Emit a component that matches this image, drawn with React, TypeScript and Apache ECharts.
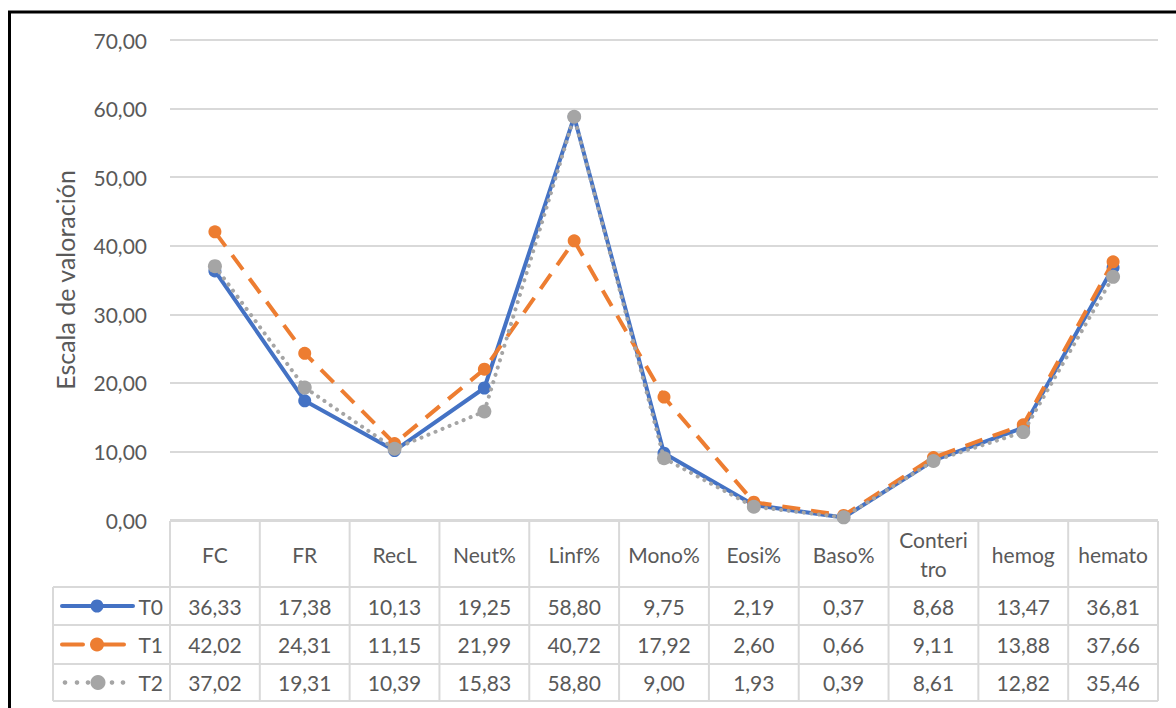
import React, { useEffect, useRef } from 'react';
import * as echarts from 'echarts';

const categories = ['FC', 'FR', 'RecL', 'Neut%', 'Linf%', 'Mono%', 'Eosi%', 'Baso%', 'Conteri\ntro', 'hemog', 'hemato'];
const seriesNames = ['T0', 'T1', 'T2'];
const t0 = [36.33, 17.38, 10.13, 19.25, 58.8, 9.75, 2.19, 0.37, 8.68, 13.47, 36.81];
const t1 = [42.02, 24.31, 11.15, 21.99, 40.72, 17.92, 2.6, 0.66, 9.11, 13.88, 37.66];
const t2 = [37.02, 19.31, 10.39, 15.83, 58.8, 9.0, 1.93, 0.39, 8.61, 12.82, 35.46];
const yMin = 0;
const yMax = 70;
const yStep = 10;
const yTitle = 'Escala de valoración';

const seriesData = [t0, t1, t2];
const colors = ['#4472C4', '#ED7D31', '#A5A5A5'];

const FONT = 'Lato';
const TXT = '#595959';
const GRID_C = '#D9D9D9';
const FS = 21;

const fmt = (v: number) => v.toFixed(2).replace('.', ',');

export default function App() {
  const ref = useRef<HTMLDivElement>(null);
  useEffect(() => {
    if (!ref.current) return;
    const chart = echarts.init(ref.current, undefined, { renderer: 'svg' });

    const gridL = 170;
    const gridR = 1158;
    const gridT = 40;
    const gridB = 520;
    const colW = (gridR - gridL) / categories.length;
    const tableTop = 521;
    const rowLines = [587, 625, 664, 701];
    const legendL = 53;

    const graphics: any[] = [];
    // frame
    graphics.push({
      type: 'rect', silent: true, z: 100,
      shape: { x: 9.5, y: 12, width: 1200, height: 800 },
      style: { fill: 'none', stroke: '#000', lineWidth: 3 },
    });
    // table horizontal lines
    graphics.push({ type: 'line', shape: { x1: gridL, y1: tableTop, x2: gridR, y2: tableTop }, style: { stroke: GRID_C, lineWidth: 2 } });
    rowLines.forEach((y) => {
      graphics.push({ type: 'line', shape: { x1: legendL, y1: y, x2: gridR, y2: y }, style: { stroke: GRID_C, lineWidth: 2 } });
    });
    // vertical lines
    for (let i = 0; i <= categories.length; i++) {
      const x = gridL + i * colW;
      graphics.push({ type: 'line', shape: { x1: x, y1: tableTop, x2: x, y2: rowLines[3] }, style: { stroke: GRID_C, lineWidth: 2 } });
    }
    graphics.push({ type: 'line', shape: { x1: legendL, y1: rowLines[0], x2: legendL, y2: rowLines[3] }, style: { stroke: GRID_C, lineWidth: 2 } });

    // values
    seriesData.forEach((arr, r) => {
      const cy = (rowLines[r] + rowLines[r + 1]) / 2;
      arr.forEach((v, i) => {
        graphics.push({
          type: 'text', x: gridL + (i + 0.5) * colW, y: cy,
          style: { text: fmt(v), fill: TXT, font: `${FS}px ${FONT}`, align: 'center', verticalAlign: 'middle' },
        });
      });
      graphics.push({
        type: 'text', x: 163, y: cy,
        style: { text: seriesNames[r], fill: TXT, font: `${FS}px ${FONT}`, align: 'right', verticalAlign: 'middle' },
      });
    });

    // legend keys
    const y0 = (rowLines[0] + rowLines[1]) / 2;
    const y1 = (rowLines[1] + rowLines[2]) / 2;
    const y2 = (rowLines[2] + rowLines[3]) / 2;
    graphics.push({ type: 'line', shape: { x1: 62, y1: y0, x2: 133, y2: y0 }, style: { stroke: colors[0], lineWidth: 4, lineCap: 'round' } });
    graphics.push({ type: 'circle', shape: { cx: 97, cy: y0, r: 6.5 }, style: { fill: colors[0] } });
    graphics.push({ type: 'line', shape: { x1: 62, y1: y1, x2: 83, y2: y1 }, style: { stroke: colors[1], lineWidth: 4, lineCap: 'round' } });
    graphics.push({ type: 'line', shape: { x1: 103, y1: y1, x2: 124, y2: y1 }, style: { stroke: colors[1], lineWidth: 4, lineCap: 'round' } });
    graphics.push({ type: 'circle', shape: { cx: 97, cy: y1, r: 7 }, style: { fill: colors[1] } });
    [65, 77, 88, 112, 123].forEach((x) => {
      graphics.push({ type: 'circle', shape: { cx: x, cy: y2, r: 2.3 }, style: { fill: colors[2] } });
    });
    graphics.push({ type: 'circle', shape: { cx: 98, cy: y2, r: 7.5 }, style: { fill: colors[2] } });

    const lineTypes: any[] = ['solid', [18, 11], [0.1, 7.5]];
    const caps: any[] = ['round', 'butt', 'round'];

    chart.setOption({
      animation: false,
      backgroundColor: '#fff',
      grid: { left: gridL, right: 1176 - gridR, top: gridT, bottom: 708 - gridB, containLabel: false },
      xAxis: {
        type: 'category',
        data: categories,
        boundaryGap: true,
        axisLine: { show: false },
        axisTick: { show: false },
        axisLabel: {
          interval: 0, margin: 34, verticalAlign: 'middle', lineHeight: 29,
          color: TXT, fontFamily: FONT, fontSize: FS, align: 'center',
        },
      },
      yAxis: {
        type: 'value', min: yMin, max: yMax, interval: yStep,
        name: yTitle, nameLocation: 'middle', nameGap: 93,
        nameTextStyle: { color: TXT, fontFamily: FONT, fontSize: 25 },
        axisLine: { show: false }, axisTick: { show: false },
        axisLabel: { color: TXT, fontFamily: FONT, fontSize: FS, margin: 23, formatter: (v: number) => fmt(v) },
        splitLine: { lineStyle: { color: GRID_C, width: 2 } },
      },
      series: seriesData.map((d, i) => ({
        name: seriesNames[i],
        type: 'line',
        data: d,
        symbol: 'circle',
        symbolSize: i === 2 ? 14 : 13,
        color: colors[i],
        itemStyle: { color: colors[i] },
        lineStyle: { color: colors[i], width: 4, type: lineTypes[i], cap: caps[i], join: 'round' },
        z: 2 + i,
      })),
      graphic: graphics,
    });
    return () => chart.dispose();
  }, []);
  return <div ref={ref} style={{ position: 'fixed', left: 0, top: 0, width: 1176, height: 708 }} />;
}
